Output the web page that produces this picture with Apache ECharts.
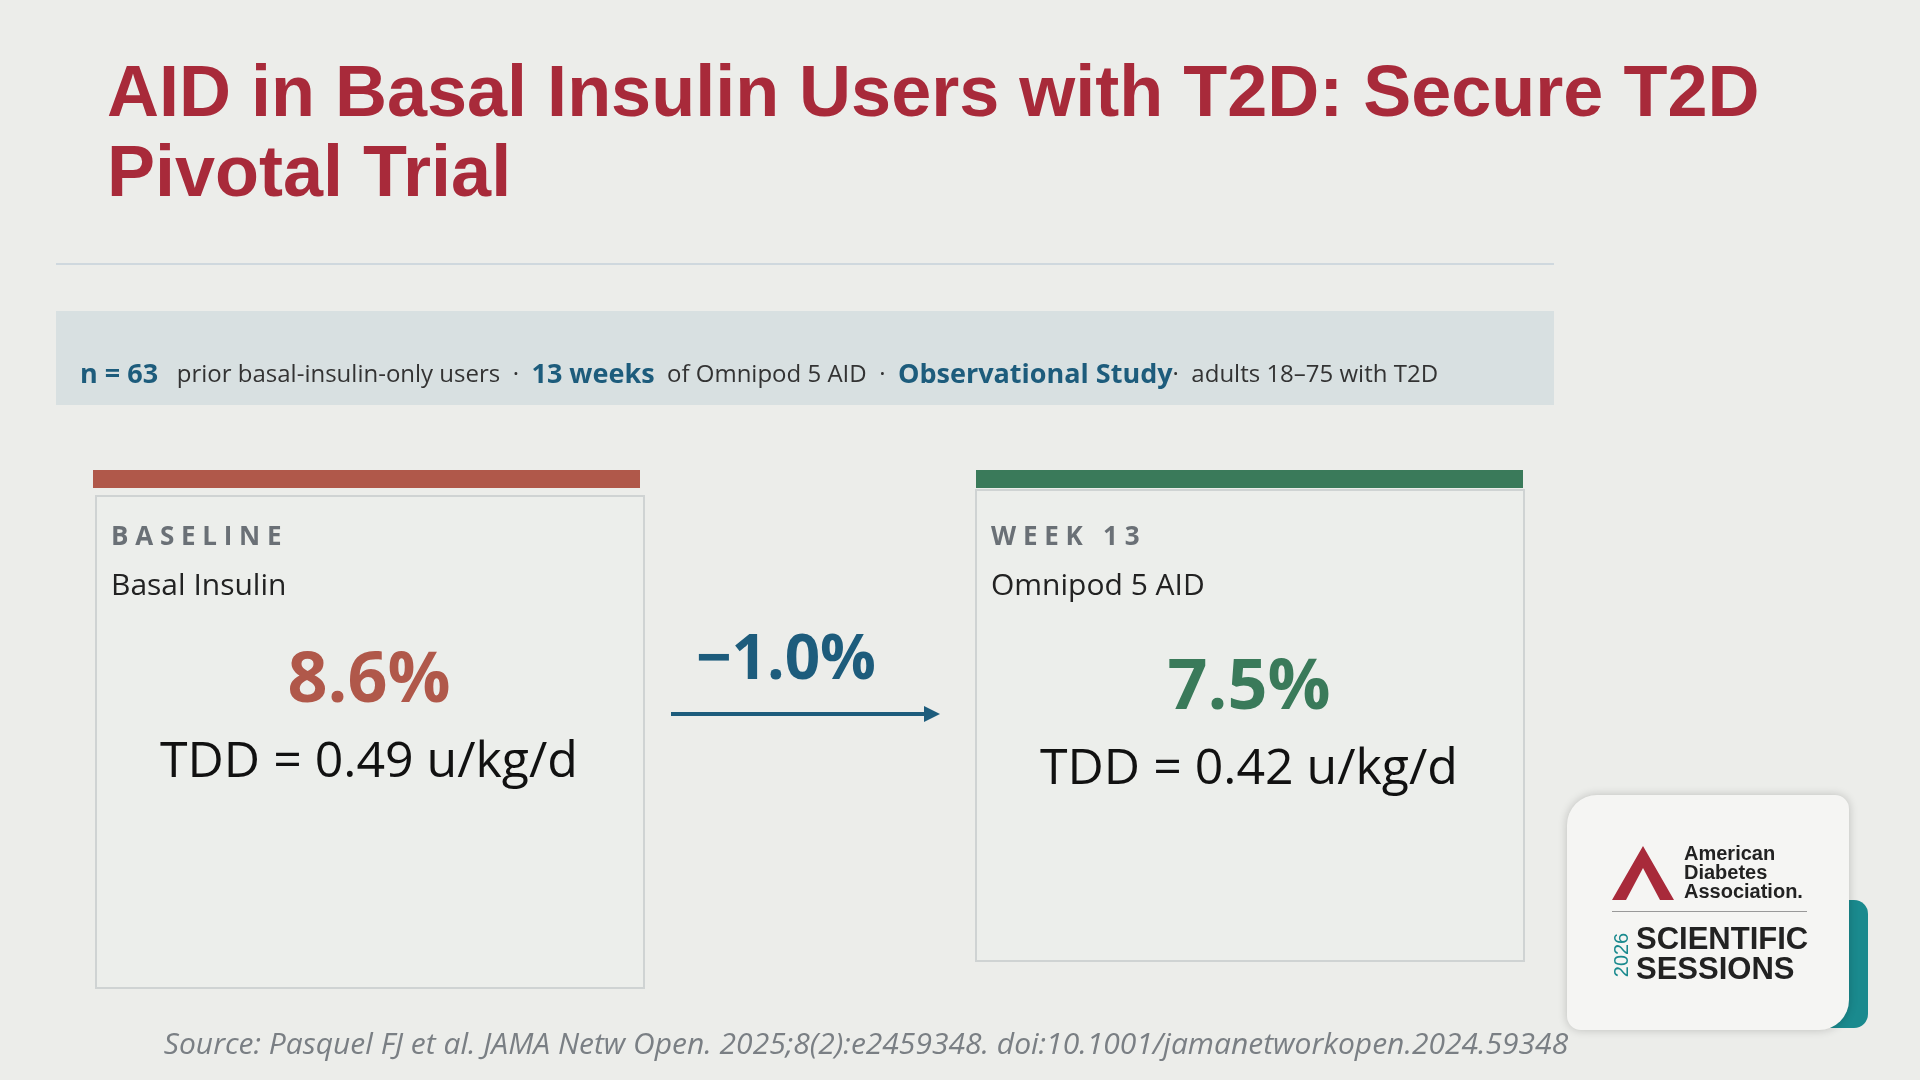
<!DOCTYPE html>
<html><head><meta charset="utf-8">
<script src="https://cdn.jsdelivr.net/npm/echarts@6/dist/echarts.min.js"></script>
<style>html,body{margin:0;padding:0;background:#ecedea}#c{width:1920px;height:1080px}</style>
</head><body><div id="c"></div>
<script>
const titleLines = ["AID in Basal Insulin Users with T2D: Secure T2D", "Pivotal Trial"];
const cardLabels = ["BASELINE", "WEEK 13"];
const cardSubtitles = ["Basal Insulin", "Omnipod 5 AID"];
const a1cValues = [8.6, 7.5];
const tddValues = [0.49, 0.42];
const changeValue = -1.0;
const sourceText = "Source: Pasquel FJ et al. JAMA Netw Open. 2025;8(2):e2459348. doi:10.1001/jamanetworkopen.2024.59348";

const red = '#a82a3a', brick = '#b0584a', green = '#3a7a5a', blue = '#1d5c7c', F = '"Open Sans", "Noto Sans", sans-serif';
const chart = echarts.init(document.getElementById('c'));
const g = [];
g.push({type:'rect',shape:{x:0,y:0,width:1920,height:1080},style:{fill:'#ecedea'},z:0});
titleLines.forEach((t,i)=>g.push({type:'text',x:107,y:60+i*80,style:{text:t,font:'bold 72px "Liberation Sans", Arial, sans-serif',fill:red}}));
g.push({type:'rect',shape:{x:56,y:263,width:1498,height:2},style:{fill:'#cfd8de'}});
g.push({type:'rect',shape:{x:56,y:311,width:1498,height:94},style:{fill:'#d8e0e1'}});
g.push({type:'text',x:80,y:375,style:{rich:{b:{font:'bold 27px '+F,fill:blue},n:{font:'24px '+F,fill:'#333'}},
  text:'{b|n = 63}{n|   prior basal-insulin-only users  ·  }{b|13 weeks}{n|  of Omnipod 5 AID  ·  }{b|Observational Study}{n|·  adults 18–75 with T2D}',verticalAlign:'middle'}});
const cards=[{x:96,bar:93,top:496,bottom:988,col:brick,ay:682,ty:763},{x:976,bar:976,top:490,bottom:961,col:green,ay:689,ty:770}];
cards.forEach((c,i)=>{
  g.push({type:'rect',shape:{x:c.x,y:c.top,width:548,height:c.bottom-c.top},style:{fill:'#eceeeb',stroke:'#cfd3d3',lineWidth:2}});
  g.push({type:'rect',shape:{x:c.bar,y:470,width:547,height:18},style:{fill:c.col}});
  g.push({type:'text',x:c.x+15,y:538,style:{text:cardLabels[i].split('').join(' '),font:'bold 26px '+F,fill:'#6a7076',verticalAlign:'middle'}});
  g.push({type:'text',x:c.x+15,y:586,style:{text:cardSubtitles[i],font:'30px '+F,fill:'#222',verticalAlign:'middle'}});
  g.push({type:'text',x:c.x+273,y:c.ay,style:{text:a1cValues[i].toFixed(1)+'%',font:'bold 70px '+F,fill:c.col,align:'center',verticalAlign:'middle'}});
  g.push({type:'text',x:c.x+273,y:c.ty,style:{text:'TDD = '+tddValues[i].toFixed(2)+' u/kg/d',font:'50px '+F,fill:'#111',align:'center',verticalAlign:'middle'}});
});
g.push({type:'text',x:786,y:661,style:{text:'−'+Math.abs(changeValue).toFixed(1)+'%',font:'bold 62px '+F,fill:blue,align:'center',verticalAlign:'middle'}});
g.push({type:'line',shape:{x1:671,y1:714,x2:926,y2:714},style:{stroke:blue,lineWidth:4}});
g.push({type:'polygon',shape:{points:[[924,706],[940,714],[924,722]]},style:{fill:blue}});
g.push({type:'text',x:866,y:1045,style:{text:sourceText,font:'italic 30px '+F,fill:'#7a7f84',align:'center',verticalAlign:'middle'}});
// logo
g.push({type:'rect',shape:{x:1600,y:900,width:268,height:128,r:14},style:{fill:'#1a8a8e'}});
g.push({type:'rect',shape:{x:1567,y:795,width:282,height:235,r:[30,14,30,14]},style:{fill:'#f5f5f3',shadowBlur:10,shadowColor:'rgba(0,0,0,0.2)'}});
g.push({type:'polygon',shape:{points:[[1612,900],[1643,846],[1674,900],[1660,900],[1643,868],[1626,900]]},style:{fill:red}});
g.push({type:'text',x:1684,y:873,style:{text:'American\nDiabetes\nAssociation.',font:'bold 20px "Liberation Sans", Arial',fill:'#222',lineHeight:19,verticalAlign:'middle'}});
g.push({type:'rect',shape:{x:1612,y:911,width:195,height:1},style:{fill:'#999'}});
g.push({type:'text',x:1622,y:955,rotation:Math.PI/2,style:{text:'2026',font:'20px "Liberation Sans", Arial',fill:'#1a8a8e',align:'center',verticalAlign:'middle'}});
g.push({type:'text',x:1636,y:955,style:{text:'SCIENTIFIC\nSESSIONS',font:'bold 31px "Liberation Sans", Arial',fill:'#222',lineHeight:30,verticalAlign:'middle'}});
chart.setOption({animation:false,graphic:{elements:g}});
</script></body></html>
